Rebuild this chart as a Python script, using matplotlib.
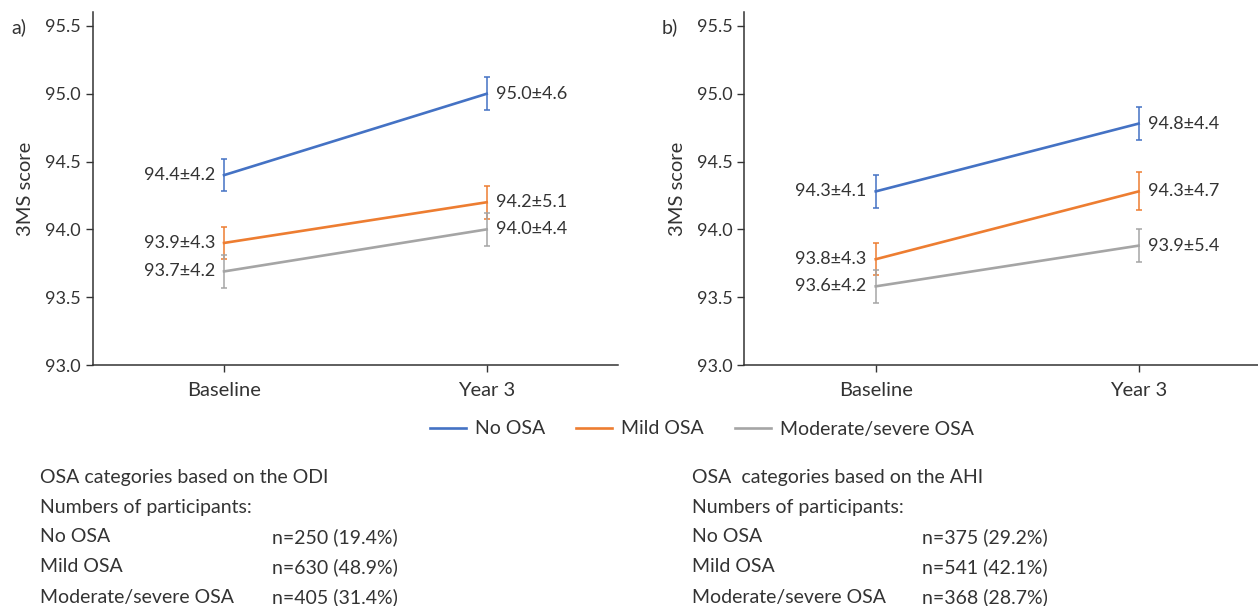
import matplotlib
matplotlib.use("Agg")
import matplotlib.pyplot as plt
from matplotlib.lines import Line2D

plt.rcParams['font.family'] = ['Lato', 'DejaVu Sans']

W, H = 1258, 606
timepoints = ["Baseline", "Year 3"]
series_names = ["No OSA", "Mild OSA", "Moderate/severe OSA"]
colors = ["#4472C4", "#ED7D31", "#A5A5A5"]

# Panel a (ODI)
odi_means = [[94.40, 95.00], [93.90, 94.20], [93.69, 94.00]]
odi_errs = [[0.12, 0.12], [0.12, 0.12], [0.12, 0.12]]
odi_labels = [["94.4±4.2", "95.0±4.6"], ["93.9±4.3", "94.2±5.1"], ["93.7±4.2", "94.0±4.4"]]

# Panel b (AHI)
ahi_means = [[94.28, 94.78], [93.78, 94.28], [93.58, 93.88]]
ahi_errs = [[0.12, 0.12], [0.12, 0.14], [0.12, 0.12]]
ahi_labels = [["94.3±4.1", "94.8±4.4"], ["93.8±4.3", "94.3±4.7"], ["93.6±4.2", "93.9±5.4"]]

yticks = [93.0, 93.5, 94.0, 94.5, 95.0, 95.5]

odi_counts = ["n=250 (19.4%)", "n=630 (48.9%)", "n=405 (31.4%)"]
ahi_counts = ["n=375 (29.2%)", "n=541 (42.1%)", "n=368 (28.7%)"]

TXT = "#333333"
fig = plt.figure(figsize=(W / 100, H / 100), dpi=100)

def px_ax(left, right, top, bottom):
    return fig.add_axes([left / W, 1 - bottom / H, (right - left) / W, (bottom - top) / H])

ax_a = px_ax(92.7, 618, 12.4, 365)
ax_b = px_ax(744.3, 1270, 12.4, 365)

for ax, means, errs, labels in [(ax_a, odi_means, odi_errs, odi_labels),
                                (ax_b, ahi_means, ahi_errs, ahi_labels)]:
    x = list(range(len(timepoints)))
    for m, e, lab, c, name in zip(means, errs, labels, colors, series_names):
        ax.errorbar(x, m, yerr=e, color=c, lw=1.9, elinewidth=1.1, capsize=2.5,
                    capthick=1.1, label=name)
        ax.annotate(lab[0], (x[0], m[0]), xytext=(-6.5, 0), textcoords='offset points',
                    ha='right', va='center', fontsize=13, color=TXT)
        ax.annotate(lab[1], (x[1], m[1]), xytext=(7, 0), textcoords='offset points',
                    ha='left', va='center', fontsize=13, color=TXT)
    ax.set_xlim(-0.5, 1.5)
    ax.set_ylim(93.0, 95.6)
    ax.set_yticks(yticks)
    ax.set_yticklabels([f"{v:.1f}" for v in yticks])
    ax.set_xticks(x)
    ax.set_xticklabels(timepoints)
    ax.tick_params(axis='both', labelcolor=TXT, color=TXT, length=5, width=1)
    ax.tick_params(axis='y', pad=3.5, labelsize=13)
    ax.tick_params(axis='x', pad=7, labelsize=14.5)
    for s in ['top', 'right']:
        ax.spines[s].set_visible(False)
    for s in ['left', 'bottom']:
        ax.spines[s].set_color(TXT)
        ax.spines[s].set_linewidth(1.1)
    ax.set_ylabel("3MS score", fontsize=14.5, color=TXT, labelpad=8)

fig.text(11 / W, 1 - 27 / H, "a)", fontsize=14, color=TXT, ha='left', va='center')
fig.text(662 / W, 1 - 27 / H, "b)", fontsize=14, color=TXT, ha='left', va='center')

handles = [Line2D([0], [0], color=c, lw=1.9) for c in colors]
fig.legend(handles, series_names, loc='center', bbox_to_anchor=(702 / W, 1 - 429 / H),
           ncol=3, frameon=False, fontsize=14, handlelength=1.85, columnspacing=1.6,
           handletextpad=0.45, labelcolor=TXT)

line_y = [478, 507, 537, 567, 597]
for x0, x1, title, counts in [(40, 272, "OSA categories based on the ODI", odi_counts),
                              (692, 922, "OSA  categories based on the AHI", ahi_counts)]:
    fig.text(x0 / W, 1 - line_y[0] / H, title, fontsize=14, color=TXT, va='center')
    fig.text(x0 / W, 1 - line_y[1] / H, "Numbers of participants:", fontsize=14, color=TXT, va='center')
    for yy, name, cnt in zip(line_y[2:], series_names, counts):
        fig.text(x0 / W, 1 - yy / H, name, fontsize=14, color=TXT, va='center')
        fig.text(x1 / W, 1 - yy / H, cnt, fontsize=14, color=TXT, va='center')

fig.savefig("out.png", dpi=100, facecolor='white')
